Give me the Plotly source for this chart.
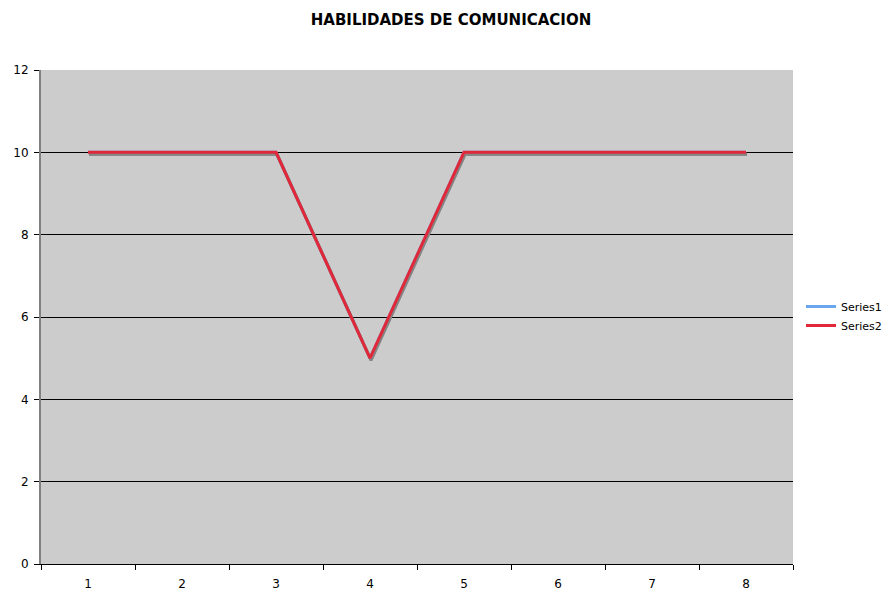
import plotly.graph_objects as go

categories = [1, 2, 3, 4, 5, 6, 7, 8]
series1 = [10, 10, 10, 5, 10, 10, 10, 10]
series2 = [10, 10, 10, 5, 10, 10, 10, 10]
y_ticks = [0, 2, 4, 6, 8, 10, 12]

# page body has an 8px margin; figure sized to fill the rest
OFF = 8
W, H = 894 - OFF, 592 - OFF
L, R, T, B = 41 - OFF, 101, 70 - OFF, 28
pw = W - L - R
ph = H - T - B
xr = [0.5, 8.5]
yr = [0, 12]
dx = 1.0 * (xr[1] - xr[0]) / pw
dy = 2.0 * (yr[1] - yr[0]) / ph

font = "DejaVu Sans"
fig = go.Figure()

# Series1 on base axes (fully covered by Series2, identical values)
fig.add_trace(go.Scatter(x=categories, y=series1, mode="lines", name="Series1",
                         line=dict(color="#6aa6ee", width=3)))

# shadows (overlay, shifted 1px right / 2px down)
for s in (series1, series2):
    fig.add_trace(go.Scatter(x=categories, y=s, mode="lines", xaxis="x2", yaxis="y2",
                             line=dict(color="#858585", width=3), showlegend=False,
                             hoverinfo="skip"))

# Series2 on top overlay
fig.add_trace(go.Scatter(x=categories, y=series2, mode="lines", name="Series2",
                         xaxis="x3", yaxis="y3", line=dict(color="#e0283a", width=3)))

fig.update_layout(
    width=W, height=H,
    margin=dict(l=L, r=R, t=T, b=B, autoexpand=False),
    paper_bgcolor="white", plot_bgcolor="#cccccc",
    title=dict(text="<b>HABILIDADES DE COMUNICACION</b>", x=(451 - OFF) / W, xref="container",
               xanchor="center", y=1 - (20 - OFF) / H, yanchor="middle",
               font=dict(family=font, size=15, color="black")),
    font=dict(family=font, size=12, color="black"),
    xaxis=dict(range=xr, tickmode="array", tickvals=categories,
               ticktext=[str(c) for c in categories], ticks="",
               showgrid=False, zeroline=False, showline=True, linecolor="black",
               linewidth=1, ticklabelstandoff=9,
               minor=dict(tick0=0.5, dtick=1, ticks="outside", ticklen=5,
                          tickcolor="black", showgrid=False),
               tickfont=dict(size=12, family=font)),
    yaxis=dict(range=yr, tickmode="array", tickvals=y_ticks, ticks="outside",
               ticklen=5, tickcolor="black", showgrid=True, gridcolor="black",
               gridwidth=1, zeroline=False, showline=True, linecolor="#808080",
               linewidth=2, ticklabelstandoff=3, tickfont=dict(size=12, family=font)),
    xaxis2=dict(range=[xr[0] - dx, xr[1] - dx], overlaying="x", anchor="y2", visible=False),
    yaxis2=dict(range=[yr[0] + dy, yr[1] + dy], overlaying="y", anchor="x2", visible=False),
    xaxis3=dict(range=xr, overlaying="x", anchor="y3", visible=False),
    yaxis3=dict(range=yr, overlaying="y", anchor="x3", visible=False),
    legend=dict(x=(801 - 41) / pw, xanchor="left", y=(592 - 28 - 316) / ph, yanchor="middle",
                font=dict(size=11, family=font), bgcolor="rgba(0,0,0,0)",
                itemwidth=30, tracegroupgap=0),
    showlegend=True,
)

fig.write_html("out.html")
